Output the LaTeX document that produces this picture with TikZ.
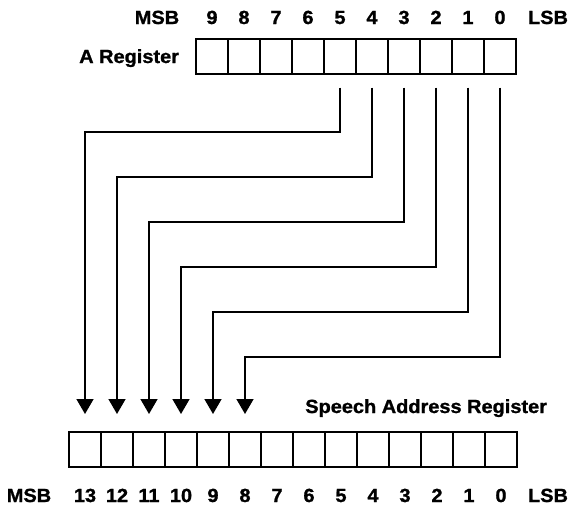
\documentclass[tikz,border=0pt]{standalone}
\usepackage{fontspec}
\setmainfont{Liberation Sans}[FakeStretch=1.05, BoldFeatures={FakeBold=1.2}]
\usepackage{tikz}
\usetikzlibrary{arrows.meta}

\begin{document}
\begin{tikzpicture}[x=1pt,y=-1pt,line cap=rect,
		cell/.style={draw=custcol_ink, line width=2.0pt, rectangle, inner sep=0, outer sep=0, minimum width=32pt, minimum height=35pt},
		txt/.style={inner sep=0, outer sep=0, custcol_ink, font=\diagfont},
		link/.style={draw=custcol_ink, line width=1.5pt, line cap=butt, shorten <=14pt, shorten >=18pt, -{Triangle[width=17pt,length=15pt]}}]
					\def\diagfont{\fontsize{19pt}{19pt}\bfseries\selectfont} % heavy sans labels
					\definecolor{custcol_ink}{RGB}{0, 0, 0}
					\useasboundingbox (0.0,0.0) rectangle (570.0,506.0);
					% A register
					\node[txt, anchor=base east] (areg) at (179.0,63.0) {A Register};
					\node[cell] (a9) at (212.0,56.0) {};
					\node[cell] (a8) at (244.0,56.0) {};
					\node[cell] (a7) at (276.0,56.0) {};
					\node[cell] (a6) at (308.0,56.0) {};
					\node[cell] (a5) at (340.0,56.0) {};
					\node[cell] (a4) at (372.0,56.0) {};
					\node[cell] (a3) at (404.0,56.0) {};
					\node[cell] (a2) at (436.0,56.0) {};
					\node[cell] (a1) at (468.0,56.0) {};
					\node[cell] (a0) at (500.0,56.0) {};
					\node[txt, anchor=base] (amsb) at (157.0,24.0) {MSB};
					\node[txt, anchor=base] (an9) at (212.0,24.0) {9};
					\node[txt, anchor=base] (an8) at (244.0,24.0) {8};
					\node[txt, anchor=base] (an7) at (276.0,24.0) {7};
					\node[txt, anchor=base] (an6) at (308.0,24.0) {6};
					\node[txt, anchor=base] (an5) at (340.0,24.0) {5};
					\node[txt, anchor=base] (an4) at (372.0,24.0) {4};
					\node[txt, anchor=base] (an3) at (404.0,24.0) {3};
					\node[txt, anchor=base] (an2) at (436.0,24.0) {2};
					\node[txt, anchor=base] (an1) at (468.0,24.0) {1};
					\node[txt, anchor=base] (an0) at (500.0,24.0) {0};
					\node[txt, anchor=base] (alsb) at (548.0,24.0) {LSB};
					% speech address register
					\node[txt, anchor=base east] (sreg) at (547.0,413.0) {Speech Address Register};
					\node[cell] (s13) at (85.0,449.5) {};
					\node[cell] (s12) at (117.0,449.5) {};
					\node[cell] (s11) at (149.0,449.5) {};
					\node[cell] (s10) at (181.0,449.5) {};
					\node[cell] (s9) at (213.0,449.5) {};
					\node[cell] (s8) at (245.0,449.5) {};
					\node[cell] (s7) at (277.0,449.5) {};
					\node[cell] (s6) at (309.0,449.5) {};
					\node[cell] (s5) at (341.0,449.5) {};
					\node[cell] (s4) at (373.0,449.5) {};
					\node[cell] (s3) at (405.0,449.5) {};
					\node[cell] (s2) at (437.0,449.5) {};
					\node[cell] (s1) at (469.0,449.5) {};
					\node[cell] (s0) at (501.0,449.5) {};
					\node[txt, anchor=base] (smsb) at (29.0,502.0) {MSB};
					\node[txt, anchor=base] (sn13) at (85.0,502.0) {13};
					\node[txt, anchor=base] (sn12) at (117.0,502.0) {12};
					\node[txt, anchor=base] (sn11) at (149.0,502.0) {11};
					\node[txt, anchor=base] (sn10) at (181.0,502.0) {10};
					\node[txt, anchor=base] (sn9) at (213.0,502.0) {9};
					\node[txt, anchor=base] (sn8) at (245.0,502.0) {8};
					\node[txt, anchor=base] (sn7) at (277.0,502.0) {7};
					\node[txt, anchor=base] (sn6) at (309.0,502.0) {6};
					\node[txt, anchor=base] (sn5) at (341.0,502.0) {5};
					\node[txt, anchor=base] (sn4) at (373.0,502.0) {4};
					\node[txt, anchor=base] (sn3) at (405.0,502.0) {3};
					\node[txt, anchor=base] (sn2) at (437.0,502.0) {2};
					\node[txt, anchor=base] (sn1) at (469.0,502.0) {1};
					\node[txt, anchor=base] (sn0) at (501.0,502.0) {0};
					\node[txt, anchor=base] (slsb) at (548.0,502.0) {LSB};
					% bit routing
					\coordinate (lv5) at (0.0,132.0);
					\coordinate (lv4) at (0.0,177.0);
					\coordinate (lv3) at (0.0,222.0);
					\coordinate (lv2) at (0.0,267.0);
					\coordinate (lv1) at (0.0,312.0);
					\coordinate (lv0) at (0.0,357.0);
					\draw[link] (a5.south) -- (a5.south |- lv5) -| (s13.north);
					\draw[link] (a4.south) -- (a4.south |- lv4) -| (s12.north);
					\draw[link] (a3.south) -- (a3.south |- lv3) -| (s11.north);
					\draw[link] (a2.south) -- (a2.south |- lv2) -| (s10.north);
					\draw[link] (a1.south) -- (a1.south |- lv1) -| (s9.north);
					\draw[link] (a0.south) -- (a0.south |- lv0) -| (s8.north);
				\end{tikzpicture}
\end{document}
